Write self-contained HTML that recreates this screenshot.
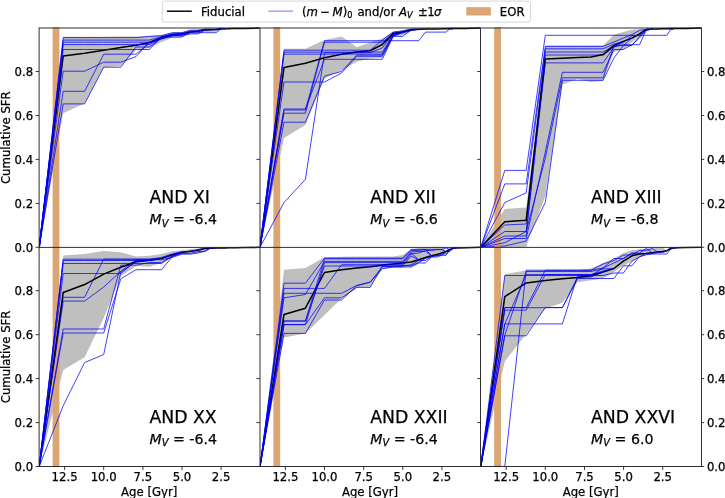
<!DOCTYPE html>
<html lang="en"><head><meta charset="utf-8"><title>Cumulative SFR</title>
<style>html,body{margin:0;padding:0;background:#fff}svg{display:block}text{font-family:"DejaVu Sans", "Liberation Sans", sans-serif;font-size:11.7px;fill:#000;stroke:#000;stroke-width:.25px}.b{fill:none;stroke:#0000ff;stroke-width:.75;stroke-linejoin:round}.k{fill:none;stroke:#000;stroke-width:1.55;stroke-linejoin:round}.g{fill:#bfbfbf;stroke:none}.e{fill:#dba673;stroke:none}.ax{fill:none;stroke:#262626;stroke-width:.95}.t{stroke:#262626;stroke-width:.9}.it{font-style:italic}</style></head><body>
<svg width="725" height="498" viewBox="0 0 725 498">
<rect width="725" height="498" fill="#fff"/>
<defs>
<clipPath id="c00"><rect x="39.1" y="27" width="220.8" height="220.3"/></clipPath>
<clipPath id="c01"><rect x="259.9" y="27" width="220.8" height="220.3"/></clipPath>
<clipPath id="c02"><rect x="480.7" y="27" width="220.8" height="220.3"/></clipPath>
<clipPath id="c10"><rect x="39.1" y="246.3" width="220.8" height="220.2"/></clipPath>
<clipPath id="c11"><rect x="259.9" y="246.3" width="220.8" height="220.2"/></clipPath>
<clipPath id="c12"><rect x="480.7" y="246.3" width="220.8" height="220.2"/></clipPath>
</defs>
<g clip-path="url(#c00)">
<polygon class="g" points="39.2,247.3 63.2,36.8 84.6,36.8 103.7,36.8 120.8,36.6 136,36.4 149.4,36 161.5,34.8 172.3,32.4 181.8,32.2 190.3,30 197.9,29.8 204.7,28.8 210.8,28.7 216.1,28.6 221,28 225.2,28.8 228.9,28.7 232.4,28.6 235.5,28.5 244.6,28.4 259.8,28.1 259.8,28.1 244.6,28.4 235.5,28.5 232.4,28.6 228.9,28.7 225.2,28.6 221,29.2 216.1,31.8 210.8,32 204.7,32.2 197.9,33.5 190.3,34 181.8,37.4 172.3,38 161.5,42 149.4,48 136,50 120.8,66 103.7,67.2 84.6,103.5 63.2,113.3 39.2,247.3"/>
<rect class="e" x="52.6" y="26" width="6.8" height="223.3"/>
<polyline class="k" points="39.2,247.3 63.2,56 84.6,53.2 103.7,50.2 120.8,47.6 136,45.3 149.4,42.5 161.5,37.6 172.3,34.6 181.8,33.8 190.3,32 197.9,31.3 204.7,30 210.8,29.7 216.1,29.5 221,28.9 225.2,28.8 228.9,28.7 232.4,28.6 235.5,28.5 244.6,28.4 259.8,28.1"/>
<polyline class="b" points="39.2,247.3 63.2,37.6 84.6,37.6 103.7,37.6 120.8,37.6 136,37.6 149.4,36.4 161.5,35.8 172.3,32.7 181.8,32.7 190.3,30.2 197.9,30.2 204.7,29 210.8,29 216.1,29 221,28.1 225.2,28.8"/>
<polyline class="b" points="39.2,247.3 63.2,40.1 84.6,40.1 103.7,40.1 120.8,40.1 136,40.1 149.4,40.1 161.5,36.6 172.3,34.2 181.8,34.2 190.3,31.2 197.9,31.2 204.7,29.6 210.8,29.6 216.1,29.6 221,28.4 225.2,28.8"/>
<polyline class="b" points="39.2,247.3 63.2,42.2 84.6,42.2 103.7,42.2 120.8,42.2 136,42.2 149.4,42.2 161.5,37.2 172.3,34.4 181.8,33.8"/>
<polyline class="b" points="39.2,247.3 63.2,44.6 84.6,44.6 103.7,44.6 120.8,44.6 136,44.6 149.4,44.6 161.5,38.5 172.3,35.5 181.8,35.5 190.3,32.7 197.9,32.7 204.7,32.7 210.8,32.7 216.1,32.7 221,29 225.2,28.8"/>
<polyline class="b" points="39.2,247.3 63.2,49.5 84.6,49.5 103.7,49.5 120.8,49.5 136,49.5 149.4,49.5 161.5,37 172.3,37 181.8,37 190.3,31.5 197.9,31.3"/>
<polyline class="b" points="39.2,247.3 63.2,71.2 84.6,71.2 103.7,62.2 120.8,62.2 136,56.6 149.4,42 161.5,38.5 172.3,35.5 181.8,33.8"/>
<polyline class="b" points="39.2,247.3 63.2,91.3 84.6,91.3 103.7,54.2 120.8,54.2 136,54.2 149.4,43 161.5,39 172.3,36 181.8,33.8"/>
<polyline class="b" points="39.2,247.3 63.2,103.9 84.6,103.9 103.7,67.2 120.8,67.2 136,47 149.4,47 161.5,38 172.3,35.2 181.8,35.2 190.3,33.9 197.9,33.9 204.7,30.2 210.8,29.7"/>
</g>
<g clip-path="url(#c01)">
<polygon class="g" points="260,247.3 284,48.8 305.4,48.8 324.5,40 341.6,36.4 356.8,47 370.2,42.5 382.3,38.6 393.1,31.6 402.6,30.5 411.1,28.9 418.7,28.7 425.5,28.4 431.6,28.9 436.9,28.9 441.8,28.8 446,28.7 449.7,28.6 453.2,28.6 456.3,28.5 465.4,28.4 480.6,28.1 480.6,28.1 465.4,28.4 456.3,28.5 453.2,28.6 449.7,28.6 446,28.7 441.8,28.8 436.9,29 431.6,29.2 425.5,29.4 418.7,30.2 411.1,30.7 402.6,35.6 393.1,36.6 382.3,57.8 370.2,58.5 356.8,61.7 341.6,70.2 324.5,78.6 305.4,125 284,138 260,247.3"/>
<rect class="e" x="273.4" y="26" width="6.8" height="223.3"/>
<polyline class="b" points="260,247.3 284,110 305.4,110 324.5,40.7 341.6,40.7 356.8,40.7 370.2,40.7 382.3,40.7 393.1,40.7 402.6,40.7 411.1,40.7 418.7,40.7 425.5,32.1 431.6,32.1 436.9,32.1 441.8,32.1 446,32.1 449.7,29 453.2,28.6"/>
<polyline class="b" points="260,247.3 284,113.2 305.4,113.2 324.5,42.2 341.6,42.2 356.8,42.2 370.2,42.2 382.3,42.2 393.1,33 402.6,32.1"/>
<polyline class="b" points="260,247.3 284,202.5 305.4,179.4 324.5,52.7 341.6,52.7 356.8,52.7 370.2,52.7 382.3,48 393.1,33 402.6,32.1"/>
<polyline class="b" points="260,247.3 284,109 305.4,109 324.5,59.3 341.6,59.3 356.8,59.3 370.2,59.3 382.3,59.3 393.1,36.5 402.6,32.1"/>
<polyline class="k" points="260,247.3 284,67.4 305.4,63.2 324.5,57.8 341.6,54.2 356.8,52.1 370.2,50.8 382.3,44.5 393.1,33.9 402.6,32.1 411.1,29.7 418.7,29.3 425.5,29 431.6,28.9 436.9,28.9 441.8,28.8 446,28.7 449.7,28.6 453.2,28.6 456.3,28.5 465.4,28.4 480.6,28.1"/>
<polyline class="b" points="260,247.3 284,50.2 305.4,50.2 324.5,50.2 341.6,50.2 356.8,50.2 370.2,50.2 382.3,40.1 393.1,32.1 402.6,30.8 411.1,29 418.7,29.3"/>
<polyline class="b" points="260,247.3 284,52.1 305.4,52.1 324.5,52.1 341.6,52.1 356.8,52.1 370.2,52.1 382.3,52.1 393.1,34.5 402.6,32.1"/>
<polyline class="b" points="260,247.3 284,54.1 305.4,54.1 324.5,54.1 341.6,54.1 356.8,54.1 370.2,54.1 382.3,54.1 393.1,35.5 402.6,32.1"/>
<polyline class="b" points="260,247.3 284,82 305.4,82 324.5,82 341.6,73 356.8,56.3 370.2,56.3 382.3,56.3 393.1,36.4 402.6,36.4 411.1,30.2 418.7,29.3"/>
<polyline class="b" points="260,247.3 284,122.2 305.4,122.2 324.5,76.2 341.6,71.4 356.8,55.1 370.2,55.1 382.3,55.1 393.1,35.4 402.6,33 411.1,30.6 418.7,29.3"/>
</g>
<g clip-path="url(#c02)">
<polygon class="g" points="480.8,247.3 504.8,209 526.2,207.4 545.3,45.5 562.4,45.5 577.6,45.5 591,45.5 603.1,45.5 613.9,34.8 623.4,32 631.9,29.8 639.5,29.3 646.3,29 652.4,29 657.7,28.9 662.6,28.8 666.8,28.7 670.5,28.6 674,28.6 677.1,28.5 686.2,28.4 701.4,28.1 701.4,28.1 686.2,28.4 677.1,28.5 674,28.6 670.5,28.6 666.8,28.7 662.6,28.8 657.7,28.9 652.4,29.5 646.3,30.6 639.5,36.4 631.9,42.2 623.4,49.7 613.9,52.1 603.1,81.1 591,82 577.6,79 562.4,84.4 545.3,196 526.2,247 504.8,247 480.8,247.3"/>
<rect class="e" x="494.2" y="26" width="6.8" height="223.3"/>
<polyline class="b" points="480.8,247.3 504.8,225 526.2,224 545.3,52 562.4,52 577.6,52 591,52 603.1,52 613.9,45.5 623.4,45.5 631.9,45.5 639.5,36.4 646.3,30.2 652.4,29"/>
<polyline class="b" points="480.8,247.3 504.8,236 526.2,236 545.3,55 562.4,55 577.6,55 591,55 603.1,55 613.9,47 623.4,44.7 631.9,44.7 639.5,44.7 646.3,30 652.4,29"/>
<polyline class="k" points="480.8,247.3 504.8,221.8 526.2,220.2 545.3,59.1 562.4,58.3 577.6,57.6 591,57 603.1,54.6 613.9,45.5 623.4,41.4 631.9,38.1 639.5,33.9 646.3,29.3 652.4,29 657.7,28.9 662.6,28.8 666.8,28.7 670.5,28.6 674,28.6 677.1,28.5 686.2,28.4 701.4,28.1"/>
<polyline class="b" points="480.8,247.3 504.8,170.4 526.2,170.4 545.3,35.3 562.4,35.3 577.6,35.3 591,35.3 603.1,35.3 613.9,35.3 623.4,35.3 631.9,35.3 639.5,35.3 646.3,35.3 652.4,35.3 657.7,35.3 662.6,35.3 666.8,35.3 670.5,29.8 674,28.6"/>
<polyline class="b" points="480.8,247.3 504.8,183.9 526.2,183.9 545.3,46.4 562.4,46.4 577.6,46.4 591,46.4 603.1,46.4 613.9,42 623.4,38 631.9,34.6 639.5,30.4 646.3,29.3"/>
<polyline class="b" points="480.8,247.3 504.8,202.5 526.2,192.9 545.3,48.8 562.4,48.8 577.6,48.8 591,48.8 603.1,48.8 613.9,44 623.4,41.4"/>
<polyline class="b" points="480.8,247.3 504.8,231.5 526.2,231.5 545.3,62.9 562.4,62.9 577.6,62.9 591,62.9 603.1,62.9 613.9,47 623.4,42.5 631.9,35.6 639.5,35.6 646.3,29.6 652.4,29"/>
<polyline class="b" points="480.8,247.3 504.8,238.5 526.2,238.5 545.3,152 562.4,72.3 577.6,72.3 591,72.3 603.1,72.3 613.9,49.5 623.4,49.5 631.9,44.7 639.5,38 646.3,30.4 652.4,29"/>
<polyline class="b" points="480.8,247.3 504.8,242.7 526.2,231.5 545.3,158 562.4,77.8 577.6,77.8 591,77.8 603.1,77.8 613.9,46 623.4,41.4"/>
<polyline class="b" points="480.8,247.3 504.8,246 526.2,241 545.3,202.5 562.4,80.3 577.6,80.3 591,80.3 603.1,80.3 613.9,58 623.4,45.5 631.9,38.1"/>
</g>
<g clip-path="url(#c10)">
<polygon class="g" points="39.2,466.5 63.2,255.6 84.6,253.9 103.7,251 120.8,252.3 136,256.5 149.4,255.7 161.5,254 172.3,251.2 181.8,250.3 190.3,249.3 197.9,248.5 204.7,247.6 210.8,247.2 216.1,248.1 221,248 225.2,247.9 228.9,247.8 232.4,247.8 235.5,247.8 244.6,247.6 259.8,247.3 259.8,247.3 244.6,247.6 235.5,247.8 232.4,247.8 228.9,247.8 225.2,247.9 221,248 216.1,247.5 210.8,248.1 204.7,251.2 197.9,253 190.3,253.5 181.8,254.3 172.3,257.6 161.5,263 149.4,266.7 136,266 120.8,276 103.7,318 84.6,357.3 63.2,370 39.2,466.5"/>
<rect class="e" x="52.6" y="245.3" width="6.8" height="223.2"/>
<polyline class="b" points="39.2,466.5 63.2,273.5 84.6,273.5 103.7,273.5 120.8,273.5 136,260.5 149.4,260.5 161.5,258.5"/>
<polyline class="b" points="39.2,466.5 63.2,297.3 84.6,297.3 103.7,259.2 120.8,259.2 136,259.2 149.4,259.2 161.5,258.5"/>
<polyline class="k" points="39.2,466.5 63.2,292.5 84.6,284.6 103.7,274.1 120.8,267.2 136,261.8 149.4,260.3 161.5,258.5 172.3,254.8 181.8,252.5 190.3,251.2 197.9,250.3 204.7,248.4 210.8,248.2 216.1,248.1 221,248 225.2,247.9 228.9,247.8 232.4,247.8 235.5,247.8 244.6,247.6 259.8,247.3"/>
<polyline class="b" points="39.2,466.5 63.2,259.2 84.6,259.2 103.7,259.2 120.8,259.2 136,259.2 149.4,259.2 161.5,257.5 172.3,254 181.8,251.6 190.3,251.6 197.9,249.6 204.7,248.4"/>
<polyline class="b" points="39.2,466.5 63.2,260.5 84.6,260.5 103.7,260.5 120.8,260.5 136,260.5 149.4,260.5 161.5,258 172.3,254.5 181.8,252.5"/>
<polyline class="b" points="39.2,466.5 63.2,263.5 84.6,263.5 103.7,263.5 120.8,263.5 136,263.5 149.4,263.5 161.5,263.5 172.3,256 181.8,252.5"/>
<polyline class="b" points="39.2,466.5 63.2,301.1 84.6,301.1 103.7,287 120.8,271.3 136,259.7 149.4,259.7 161.5,259.7 172.3,257.4 181.8,254.2 190.3,254.2 197.9,253 204.7,251.2 210.8,248 216.1,248.1"/>
<polyline class="b" points="39.2,466.5 63.2,329 84.6,329 103.7,329 120.8,265.2 136,265.2 149.4,262.5 161.5,262.5 172.3,256 181.8,253.3 190.3,253.3 197.9,251.6 204.7,251.6 210.8,247.8 216.1,248.1"/>
<polyline class="b" points="39.2,466.5 63.2,333 84.6,333 103.7,333 120.8,278.8 136,269.7 149.4,269.7 161.5,269.7 172.3,256.7 181.8,252.5"/>
<polyline class="b" points="39.2,466.5 63.2,405.8 84.6,362.5 103.7,354.6 120.8,272 136,262 149.4,260.3"/>
</g>
<g clip-path="url(#c11)">
<polygon class="g" points="260,466.5 284,269.7 305.4,268 324.5,257.2 341.6,256.8 356.8,256.6 370.2,256.6 382.3,256.6 393.1,256.6 402.6,255 411.1,249.4 418.7,248 425.5,247.5 431.6,247.2 436.9,247 441.8,246.8 446,251.5 449.7,249.4 453.2,248.2 456.3,247.9 465.4,247.7 480.6,247.3 480.6,247.3 465.4,247.7 456.3,247.7 453.2,248.5 449.7,250.3 446,253 441.8,254.8 436.9,255.8 431.6,256.7 425.5,258.5 418.7,263 411.1,266.7 402.6,267.6 393.1,267.6 382.3,268.5 370.2,286.7 356.8,287.6 341.6,298.6 324.5,315 305.4,333.4 284,337.5 260,466.5"/>
<rect class="e" x="273.4" y="245.3" width="6.8" height="223.2"/>
<polyline class="k" points="260,466.5 284,314.4 305.4,308.2 324.5,272.5 341.6,269.7 356.8,268 370.2,266.7 382.3,264.9 393.1,264 402.6,263 411.1,262.1 418.7,259.8 425.5,257.6 431.6,255.8 436.9,254.5 441.8,253 446,251.5 449.7,249.4 453.2,248.2 456.3,247.9 465.4,247.7 480.6,247.3"/>
<polyline class="b" points="260,466.5 284,283.2 305.4,283.2 324.5,258.1 341.6,258.1 356.8,258.1 370.2,258.1 382.3,258.1 393.1,258.1 402.6,258.1 411.1,249.4 418.7,249.4 425.5,249.4 431.6,249.4 436.9,249.4 441.8,249.4 446,248 449.7,249.4"/>
<polyline class="b" points="260,466.5 284,288.4 305.4,288.4 324.5,288.4 341.6,264.7 356.8,264.7 370.2,264.7 382.3,264.7 393.1,264.7 402.6,264.7 411.1,254 418.7,253 425.5,250.5 431.6,250.5 436.9,249.6 441.8,249.6 446,251.5"/>
<polyline class="b" points="260,466.5 284,293.3 305.4,293.3 324.5,293.3 341.6,293.3 356.8,285.4 370.2,282.1 382.3,268.8 393.1,267 402.6,267 411.1,267 418.7,263 425.5,263 431.6,257 436.9,257 441.8,255.3 446,255.3 449.7,250.6 453.2,248.3 456.3,247.9"/>
<polyline class="b" points="260,466.5 284,297.8 305.4,294.5 324.5,261.4 341.6,261.4 356.8,261.4 370.2,261.4 382.3,261.4 393.1,261.4 402.6,261.4 411.1,252 418.7,251.4 425.5,251.4 431.6,255.8"/>
<polyline class="b" points="260,466.5 284,321 305.4,321 324.5,258.8 341.6,258.8 356.8,258.8 370.2,258.8 382.3,258.8 393.1,258.8 402.6,258.8 411.1,250.5 418.7,250.5 425.5,249.5 431.6,255.8"/>
<polyline class="b" points="260,466.5 284,324.6 305.4,324.6 324.5,297.8 341.6,297.8 356.8,287.4 370.2,287.4 382.3,266 393.1,266 402.6,266 411.1,264.8 418.7,260.5 425.5,260.5 431.6,256.5 436.9,255.4 441.8,255.4 446,251.5 449.7,251.5 453.2,248.2 456.3,247.9"/>
<polyline class="b" points="260,466.5 284,333.4 305.4,333.4 324.5,300 341.6,300 356.8,285.8 370.2,282.2 382.3,266.7 393.1,266.7 402.6,265.6 411.1,265.6 418.7,262.5 425.5,258.5 431.6,256.7 436.9,255.8 441.8,254 446,254 449.7,250.3 453.2,248.4 456.3,247.9"/>
<polyline class="b" points="260,466.5 284,321 305.4,321 324.5,266 341.6,266 356.8,266 370.2,266 382.3,266 393.1,266 402.6,266 411.1,256 418.7,259.8"/>
<polyline class="b" points="260,466.5 284,324.6 305.4,324.6 324.5,262.6 341.6,262.6 356.8,262.6 370.2,262.6 382.3,262.6 393.1,262.6 402.6,262.6 411.1,253 418.7,259.8"/>
</g>
<g clip-path="url(#c12)">
<polygon class="g" points="480.8,466.5 504.8,274.1 526.2,270.5 545.3,270.2 562.4,270.2 577.6,270.2 591,268.5 603.1,263 613.9,258.5 623.4,253 631.9,250.3 639.5,249.3 646.3,248.5 652.4,248 657.7,247.5 662.6,247.2 666.8,250.7 670.5,248.5 674,248 677.1,247.8 686.2,247.6 701.4,247.3 701.4,247.3 686.2,247.6 677.1,247.8 674,248 670.5,249.4 666.8,252.1 662.6,252.8 657.7,253.6 652.4,254.2 646.3,254.8 639.5,256.7 631.9,261.2 623.4,265.8 613.9,272.1 603.1,278.5 591,280.3 577.6,282.2 562.4,302.7 545.3,308.5 526.2,334.1 504.8,361.4 480.8,466.5"/>
<rect class="e" x="494.2" y="245.3" width="6.8" height="223.2"/>
<polyline class="k" points="480.8,466.5 504.8,296.6 526.2,282.9 545.3,280.4 562.4,278.8 577.6,277.6 591,275.8 603.1,272.1 613.9,268.5 623.4,261.2 631.9,255.8 639.5,253.9 646.3,253.6 652.4,252.8 657.7,252.1 662.6,251.4 666.8,250.7 670.5,248.5 674,248 677.1,247.8 686.2,247.6 701.4,247.3"/>
<polyline class="b" points="480.8,466.5 504.8,275.5 526.2,275.5 545.3,275.5 562.4,275.5 577.6,275.5 591,275.5 603.1,268 613.9,258.5 623.4,258.5 631.9,253 639.5,253 646.3,248.5 652.4,252.8"/>
<polyline class="b" points="480.8,466.5 504.8,307.5 526.2,307.5 545.3,270.2 562.4,270.2 577.6,270.2 591,270.2 603.1,268 613.9,263 623.4,258.5 631.9,253.4 639.5,253.9"/>
<polyline class="b" points="480.8,466.5 504.8,310.2 526.2,310.2 545.3,274.6 562.4,274.6 577.6,274.6 591,274.6 603.1,271 613.9,268.5"/>
<polyline class="b" points="480.8,466.5 504.8,307.7 526.2,307.7 545.3,307.7 562.4,307.7 577.6,278.5 591,278.5 603.1,278.5 613.9,278.5 623.4,265.8 631.9,265.8 639.5,256.7 646.3,254.8 652.4,254 657.7,254 662.6,254 666.8,254 670.5,249.4 674,248 677.1,247.8"/>
<polyline class="b" points="480.8,466.5 504.8,323.9 526.2,323.9 545.3,323.9 562.4,323.9 577.6,275.5 591,275.5 603.1,275.5 613.9,273 623.4,273 631.9,261.2 639.5,257 646.3,253.2 652.4,253.2 657.7,252.4 662.6,252.4 666.8,251 670.5,248.2 674,248"/>
<polyline class="b" points="480.8,466.5 504.8,335.8 526.2,335.8 545.3,307.5 562.4,307.5 577.6,277 591,277 603.1,272.1"/>
<polyline class="b" points="480.8,466.5 504.8,466.4 526.2,270.2 545.3,270.2 562.4,270.2 577.6,270.2 591,270.2 603.1,264 613.9,260.5 623.4,255 631.9,255 639.5,250.4 646.3,250.4 652.4,248.6 657.7,252.1"/>
<polyline class="b" points="480.8,466.5 504.8,323.9 526.2,274.6 545.3,274.6 562.4,274.6 577.6,274.6 591,274.6 603.1,272.1"/>
<polyline class="b" points="480.8,466.5 504.8,335 526.2,271.5 545.3,271.5 562.4,271.5 577.6,271.5 591,271.5 603.1,269 613.9,268.5"/>
</g>
<rect class="ax" x="39.1" y="28" width="662.4" height="438.5"/>
<line class="ax" x1="39.1" y1="247.4" x2="701.5" y2="247.4"/>
<line class="ax" x1="260" y1="28" x2="260" y2="466.5"/>
<line class="ax" x1="480.5" y1="28" x2="480.5" y2="466.5"/>
<line class="t" x1="35.6" y1="247.3" x2="39.1" y2="247.3"/>
<text x="33.2" y="251.7" text-anchor="end">0.0</text>
<line class="t" x1="35.6" y1="203.4" x2="39.1" y2="203.4"/>
<text x="33.2" y="207.8" text-anchor="end">0.2</text>
<line class="t" x1="35.6" y1="159.4" x2="39.1" y2="159.4"/>
<text x="33.2" y="163.8" text-anchor="end">0.4</text>
<line class="t" x1="35.6" y1="115.5" x2="39.1" y2="115.5"/>
<text x="33.2" y="119.9" text-anchor="end">0.6</text>
<line class="t" x1="35.6" y1="71.5" x2="39.1" y2="71.5"/>
<text x="33.2" y="75.9" text-anchor="end">0.8</text>
<line class="t" x1="256.4" y1="247.3" x2="259.9" y2="247.3"/>
<line class="t" x1="256.4" y1="203.4" x2="259.9" y2="203.4"/>
<line class="t" x1="256.4" y1="159.4" x2="259.9" y2="159.4"/>
<line class="t" x1="256.4" y1="115.5" x2="259.9" y2="115.5"/>
<line class="t" x1="256.4" y1="71.5" x2="259.9" y2="71.5"/>
<line class="t" x1="477.2" y1="247.3" x2="480.7" y2="247.3"/>
<line class="t" x1="701.5" y1="247.3" x2="704.2" y2="247.3"/>
<text x="706.9" y="251.7">0.0</text>
<line class="t" x1="477.2" y1="203.4" x2="480.7" y2="203.4"/>
<line class="t" x1="701.5" y1="203.4" x2="704.2" y2="203.4"/>
<text x="706.9" y="207.8">0.2</text>
<line class="t" x1="477.2" y1="159.4" x2="480.7" y2="159.4"/>
<line class="t" x1="701.5" y1="159.4" x2="704.2" y2="159.4"/>
<text x="706.9" y="163.8">0.4</text>
<line class="t" x1="477.2" y1="115.5" x2="480.7" y2="115.5"/>
<line class="t" x1="701.5" y1="115.5" x2="704.2" y2="115.5"/>
<text x="706.9" y="119.9">0.6</text>
<line class="t" x1="477.2" y1="71.5" x2="480.7" y2="71.5"/>
<line class="t" x1="701.5" y1="71.5" x2="704.2" y2="71.5"/>
<text x="706.9" y="75.9">0.8</text>
<text transform="translate(10.2,137.7) rotate(-90)" text-anchor="middle">Cumulative SFR</text>
<line class="t" x1="64.6" y1="466.5" x2="64.6" y2="470"/>
<text x="64.6" y="481.1" text-anchor="middle">12.5</text>
<line class="t" x1="103.7" y1="466.5" x2="103.7" y2="470"/>
<text x="103.7" y="481.1" text-anchor="middle">10.0</text>
<line class="t" x1="142.9" y1="466.5" x2="142.9" y2="470"/>
<text x="142.9" y="481.1" text-anchor="middle">7.5</text>
<line class="t" x1="182" y1="466.5" x2="182" y2="470"/>
<text x="182" y="481.1" text-anchor="middle">5.0</text>
<line class="t" x1="221.1" y1="466.5" x2="221.1" y2="470"/>
<text x="221.1" y="481.1" text-anchor="middle">2.5</text>
<line class="t" x1="35.6" y1="466.5" x2="39.1" y2="466.5"/>
<text x="33.2" y="470.9" text-anchor="end">0.0</text>
<line class="t" x1="35.6" y1="422.6" x2="39.1" y2="422.6"/>
<text x="33.2" y="427" text-anchor="end">0.2</text>
<line class="t" x1="35.6" y1="378.6" x2="39.1" y2="378.6"/>
<text x="33.2" y="383" text-anchor="end">0.4</text>
<line class="t" x1="35.6" y1="334.7" x2="39.1" y2="334.7"/>
<text x="33.2" y="339.1" text-anchor="end">0.6</text>
<line class="t" x1="35.6" y1="290.7" x2="39.1" y2="290.7"/>
<text x="33.2" y="295.1" text-anchor="end">0.8</text>
<line class="t" x1="285.4" y1="466.5" x2="285.4" y2="470"/>
<text x="285.4" y="481.1" text-anchor="middle">12.5</text>
<line class="t" x1="324.5" y1="466.5" x2="324.5" y2="470"/>
<text x="324.5" y="481.1" text-anchor="middle">10.0</text>
<line class="t" x1="363.7" y1="466.5" x2="363.7" y2="470"/>
<text x="363.7" y="481.1" text-anchor="middle">7.5</text>
<line class="t" x1="402.8" y1="466.5" x2="402.8" y2="470"/>
<text x="402.8" y="481.1" text-anchor="middle">5.0</text>
<line class="t" x1="441.9" y1="466.5" x2="441.9" y2="470"/>
<text x="441.9" y="481.1" text-anchor="middle">2.5</text>
<line class="t" x1="256.4" y1="466.5" x2="259.9" y2="466.5"/>
<line class="t" x1="256.4" y1="422.6" x2="259.9" y2="422.6"/>
<line class="t" x1="256.4" y1="378.6" x2="259.9" y2="378.6"/>
<line class="t" x1="256.4" y1="334.7" x2="259.9" y2="334.7"/>
<line class="t" x1="256.4" y1="290.7" x2="259.9" y2="290.7"/>
<line class="t" x1="506.2" y1="466.5" x2="506.2" y2="470"/>
<text x="506.2" y="481.1" text-anchor="middle">12.5</text>
<line class="t" x1="545.3" y1="466.5" x2="545.3" y2="470"/>
<text x="545.3" y="481.1" text-anchor="middle">10.0</text>
<line class="t" x1="584.5" y1="466.5" x2="584.5" y2="470"/>
<text x="584.5" y="481.1" text-anchor="middle">7.5</text>
<line class="t" x1="623.6" y1="466.5" x2="623.6" y2="470"/>
<text x="623.6" y="481.1" text-anchor="middle">5.0</text>
<line class="t" x1="662.7" y1="466.5" x2="662.7" y2="470"/>
<text x="662.7" y="481.1" text-anchor="middle">2.5</text>
<line class="t" x1="477.2" y1="466.5" x2="480.7" y2="466.5"/>
<line class="t" x1="701.5" y1="466.5" x2="704.2" y2="466.5"/>
<text x="706.9" y="470.9">0.0</text>
<line class="t" x1="477.2" y1="422.6" x2="480.7" y2="422.6"/>
<line class="t" x1="701.5" y1="422.6" x2="704.2" y2="422.6"/>
<text x="706.9" y="427">0.2</text>
<line class="t" x1="477.2" y1="378.6" x2="480.7" y2="378.6"/>
<line class="t" x1="701.5" y1="378.6" x2="704.2" y2="378.6"/>
<text x="706.9" y="383">0.4</text>
<line class="t" x1="477.2" y1="334.7" x2="480.7" y2="334.7"/>
<line class="t" x1="701.5" y1="334.7" x2="704.2" y2="334.7"/>
<text x="706.9" y="339.1">0.6</text>
<line class="t" x1="477.2" y1="290.7" x2="480.7" y2="290.7"/>
<line class="t" x1="701.5" y1="290.7" x2="704.2" y2="290.7"/>
<text x="706.9" y="295.1">0.8</text>
<text transform="translate(10.2,356.9) rotate(-90)" text-anchor="middle">Cumulative SFR</text>
<text x="149.2" y="495.8" text-anchor="middle">Age [Gyr]</text>
<text x="370" y="495.8" text-anchor="middle">Age [Gyr]</text>
<text x="590.8" y="495.8" text-anchor="middle">Age [Gyr]</text>
<text x="149.4" y="203.4" style="font-size:17.3px">AND XI</text>
<text x="149.4" y="224.3" style="font-size:14.2px"><tspan class="it">M</tspan><tspan class="it" dy="2.4" style="font-size:9.9px">V</tspan><tspan dy="-2.4"> = -6.4</tspan></text>
<text x="370.2" y="203.4" style="font-size:17.3px">AND XII</text>
<text x="370.2" y="224.3" style="font-size:14.2px"><tspan class="it">M</tspan><tspan class="it" dy="2.4" style="font-size:9.9px">V</tspan><tspan dy="-2.4"> = -6.6</tspan></text>
<text x="591" y="203.4" style="font-size:17.3px">AND XIII</text>
<text x="591" y="224.3" style="font-size:14.2px"><tspan class="it">M</tspan><tspan class="it" dy="2.4" style="font-size:9.9px">V</tspan><tspan dy="-2.4"> = -6.8</tspan></text>
<text x="149.4" y="422.7" style="font-size:17.3px">AND XX</text>
<text x="149.4" y="443.6" style="font-size:14.2px"><tspan class="it">M</tspan><tspan class="it" dy="2.4" style="font-size:9.9px">V</tspan><tspan dy="-2.4"> = -6.4</tspan></text>
<text x="370.2" y="422.7" style="font-size:17.3px">AND XXII</text>
<text x="370.2" y="443.6" style="font-size:14.2px"><tspan class="it">M</tspan><tspan class="it" dy="2.4" style="font-size:9.9px">V</tspan><tspan dy="-2.4"> = -6.4</tspan></text>
<text x="591" y="422.7" style="font-size:17.3px">AND XXVI</text>
<text x="591" y="443.6" style="font-size:14.2px"><tspan class="it">M</tspan><tspan class="it" dy="2.4" style="font-size:9.9px">V</tspan><tspan dy="-2.4"> = 6.0</tspan></text>
<rect x="162.3" y="1.1" width="368.2" height="21" rx="2.3" ry="2.3" fill="#fff" stroke="#d2d2d2" stroke-width=".9"/>
<line x1="167" y1="11.2" x2="191.8" y2="11.2" stroke="#000" stroke-width="1.45"/>
<text x="201" y="15.5">Fiducial</text>
<line x1="268.4" y1="11.1" x2="293" y2="11.1" stroke="#0000ff" stroke-width=".55"/>
<text x="302" y="15.5">(<tspan class="it">m</tspan><tspan dx="2.4">−</tspan><tspan class="it" dx="2.4">M</tspan>)<tspan dy="2.2" style="font-size:8.2px">0</tspan><tspan dy="-2.2" dx="1.3"> and/or </tspan><tspan class="it">A</tspan><tspan class="it" dy="2.2" style="font-size:8.2px">V</tspan><tspan dy="-2.2" dx="1.6"> ±</tspan><tspan dx="-.6">1</tspan><tspan class="it" dx="-.7">σ</tspan></text>
<rect class="e" x="466.3" y="7.2" width="24.6" height="8.3"/>
<text x="499.8" y="15.5">EOR</text>
</svg></body></html>
